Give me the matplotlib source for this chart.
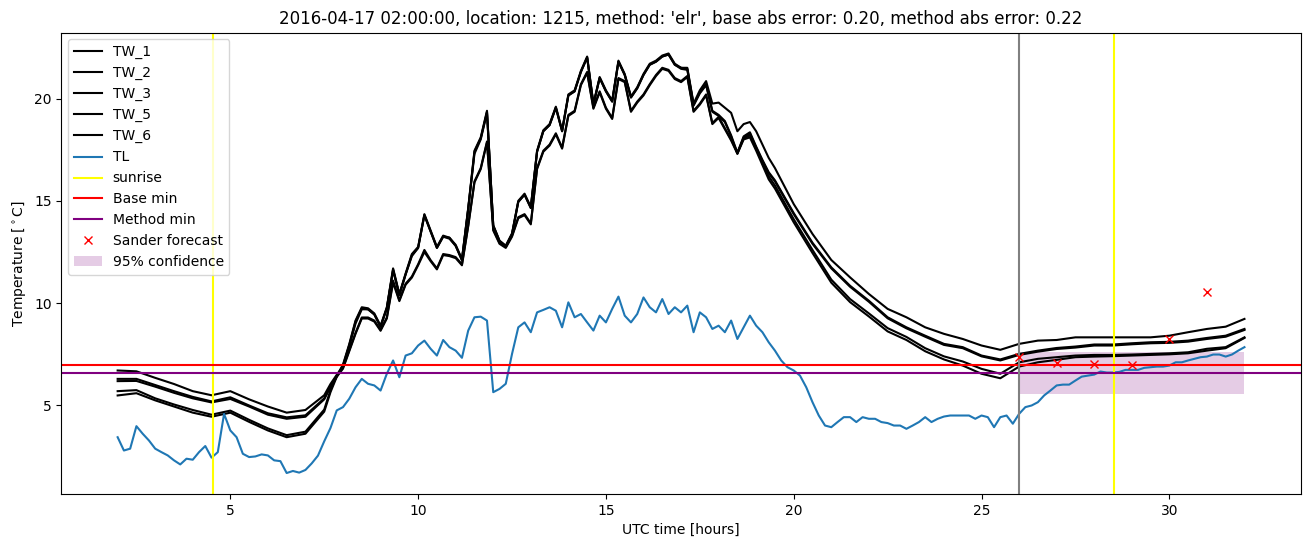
import numpy as np
import matplotlib
matplotlib.use("Agg")
import matplotlib.pyplot as plt

# ---------------- data ----------------
title = ("2016-04-17 02:00:00, location: 1215, method: 'elr', "
         "base abs error: 0.20, method abs error: 0.22")

# TL at 10-minute resolution, 2.0 .. 32.0 h
tl_values = [
    3.45, 2.80, 2.89, 3.99, 3.62, 3.29, 2.89, 2.72, 2.56, 2.32,
    2.12, 2.40, 2.35, 2.72, 3.02, 2.45, 2.72, 4.59, 3.78, 3.45,
    2.64, 2.48, 2.51, 2.61, 2.56, 2.32, 2.28, 1.70, 1.80, 1.72,
    1.85, 2.17, 2.55, 3.25, 3.90, 4.76, 4.92, 5.33, 5.89, 6.30,
    6.06, 5.98, 5.73, 6.55, 7.20, 6.38, 7.44, 7.55, 7.93, 8.17,
    7.77, 7.44, 8.20, 7.85, 7.68, 7.33, 8.66, 9.31, 9.34, 9.15,
    5.65, 5.81, 6.06, 7.52, 8.82, 9.06, 8.58, 9.55, 9.67, 9.80,
    9.63, 8.82, 10.04, 9.31, 9.47, 9.06, 8.66, 9.39, 9.06, 9.72,
    10.32, 9.39, 9.06, 9.47, 10.28, 9.80, 9.55, 10.20, 9.47, 9.80,
    9.55, 9.88, 8.58, 9.55, 9.31, 8.74, 8.90, 8.58, 9.15, 8.25,
    8.82, 9.39, 8.90, 8.58, 8.09, 7.68, 7.20, 6.87, 6.71, 6.46,
    5.89, 5.16, 4.51, 4.02, 3.94, 4.19, 4.43, 4.43, 4.19, 4.43,
    4.35, 4.35, 4.19, 4.14, 4.02, 4.02, 3.86, 4.02, 4.19, 4.43,
    4.19, 4.35, 4.46, 4.51, 4.51, 4.51, 4.51, 4.35, 4.51, 4.43,
    3.94, 4.43, 4.51, 4.11, 4.59, 4.92, 5.00, 5.16, 5.49, 5.73,
    5.98, 6.02, 6.02, 6.22, 6.41, 6.46, 6.51, 6.66, 6.61, 6.61,
    6.64, 6.74, 6.74, 6.74, 6.84, 6.87, 6.90, 6.90, 6.95, 7.11,
    7.11, 7.20, 7.28, 7.36, 7.39, 7.49, 7.49, 7.39, 7.49, 7.68,
    7.85,
]

# TW series: 30-min steps 2.0-7.5 h, 10-min steps 7.667-19.5 h, 30-min steps 20-32 h
tw_1 = [6.71, 6.67, 6.35, 6.05, 5.70, 5.50, 5.70, 5.30, 4.95, 4.65, 4.78, 5.50,
        6.05, 6.50, 6.90, 7.90, 9.00, 9.70, 9.70, 9.45, 8.85, 9.75, 11.60, 10.40,
        11.40, 12.30, 12.70, 14.30, 13.50, 12.70, 13.25, 13.20, 12.80, 12.10, 14.60, 17.30,
        18.00, 19.30, 13.80, 13.05, 12.80, 13.40, 14.95, 15.30, 14.65, 17.40, 18.40, 18.70,
        19.55, 18.40, 20.15, 20.35, 21.30, 22.00, 19.70, 21.00, 20.35, 19.85, 21.80, 21.15,
        20.05, 20.50, 21.15, 21.65, 21.80, 22.05, 22.15, 21.65, 21.50, 21.50, 19.75, 20.40,
        20.85, 19.75, 19.80, 19.55, 19.30, 18.40, 18.75, 18.85, 18.40, 17.75, 17.10, 16.60,
        14.84, 13.38, 12.11, 11.26, 10.45, 9.72, 9.31, 8.82, 8.50, 8.25, 7.93, 7.72,
        8.01, 8.17, 8.20, 8.33, 8.33, 8.33, 8.33, 8.33, 8.41, 8.58, 8.74, 8.85, 9.23]
tw_2 = [6.30, 6.30, 6.00, 5.70, 5.42, 5.20, 5.40, 5.00, 4.62, 4.42, 4.52, 5.35,
        5.95, 6.45, 6.85, 7.70, 8.55, 9.30, 9.30, 9.15, 8.70, 9.30, 11.10, 10.15,
        10.95, 11.30, 11.90, 12.60, 12.10, 11.70, 12.40, 12.35, 12.25, 11.90, 13.80, 15.95,
        16.60, 17.90, 13.60, 12.95, 12.75, 13.30, 14.20, 14.35, 13.90, 16.60, 17.45, 17.75,
        18.30, 17.60, 19.20, 19.40, 20.70, 21.30, 19.55, 20.35, 19.55, 19.05, 21.00, 20.85,
        19.40, 19.85, 20.20, 20.70, 21.15, 21.50, 21.40, 21.00, 20.85, 21.10, 19.40, 19.75,
        20.20, 18.80, 19.10, 18.55, 18.00, 17.35, 18.15, 18.35, 17.65, 17.00, 16.40, 16.00,
        14.40, 12.95, 11.75, 10.85, 10.12, 9.31, 8.82, 8.41, 8.01, 7.85, 7.44, 7.25,
        7.52, 7.68, 7.81, 7.88, 7.98, 7.98, 8.04, 8.09, 8.11, 8.17, 8.30, 8.41, 8.74]
tw_3 = [6.19, 6.20, 5.92, 5.62, 5.35, 5.15, 5.32, 4.95, 4.55, 4.35, 4.45, 5.30,
        5.90, 6.40, 6.80, 7.65, 8.50, 9.25, 9.25, 9.10, 8.65, 9.25, 11.00, 10.10,
        10.90, 11.25, 11.85, 12.50, 12.05, 11.65, 12.35, 12.30, 12.20, 11.85, 13.75, 15.90,
        16.55, 17.85, 13.55, 12.90, 12.70, 13.25, 14.15, 14.30, 13.85, 16.55, 17.40, 17.70,
        18.25, 17.55, 19.15, 19.35, 20.65, 21.25, 19.50, 20.30, 19.50, 19.00, 20.95, 20.80,
        19.35, 19.80, 20.15, 20.65, 21.10, 21.45, 21.35, 20.95, 20.80, 21.05, 19.35, 19.70,
        20.15, 18.75, 19.05, 18.50, 17.95, 17.30, 18.10, 18.30, 17.60, 16.95, 16.35, 15.95,
        14.35, 12.90, 11.70, 10.80, 10.07, 9.26, 8.77, 8.36, 7.96, 7.80, 7.40, 7.20,
        7.47, 7.63, 7.76, 7.83, 7.93, 7.93, 7.99, 8.04, 8.06, 8.12, 8.25, 8.36, 8.69]
tw_5 = [5.70, 5.75, 5.35, 5.05, 4.78, 4.55, 4.75, 4.30, 3.88, 3.55, 3.72, 4.80,
        5.75, 6.45, 7.00, 8.00, 9.15, 9.80, 9.75, 9.50, 8.90, 9.80, 11.70, 10.45,
        11.45, 12.40, 12.75, 14.35, 13.55, 12.75, 13.30, 13.20, 12.85, 12.15, 14.65, 17.45,
        18.10, 19.40, 13.80, 13.05, 12.80, 13.40, 15.00, 15.35, 14.70, 17.45, 18.45, 18.75,
        19.60, 18.45, 20.20, 20.40, 21.35, 22.05, 19.75, 21.05, 20.40, 19.90, 21.85, 21.20,
        20.10, 20.55, 21.20, 21.70, 21.85, 22.10, 22.20, 21.70, 21.50, 21.45, 19.70, 20.30,
        20.70, 19.40, 19.20, 18.90, 18.20, 17.35, 18.05, 18.20, 17.55, 16.85, 16.20, 15.75,
        14.10, 12.60, 11.15, 10.20, 9.50, 8.78, 8.35, 7.80, 7.40, 7.15, 6.79, 6.55,
        7.11, 7.28, 7.36, 7.44, 7.47, 7.47, 7.49, 7.52, 7.55, 7.60, 7.77, 7.85, 8.33]
tw_6 = [5.49, 5.60, 5.25, 4.95, 4.65, 4.45, 4.65, 4.20, 3.78, 3.45, 3.62, 4.70,
        5.65, 6.40, 6.95, 7.95, 9.10, 9.75, 9.70, 9.45, 8.85, 9.75, 11.65, 10.40,
        11.40, 12.35, 12.70, 14.30, 13.50, 12.70, 13.25, 13.15, 12.80, 12.10, 14.60, 17.40,
        18.05, 19.35, 13.75, 13.00, 12.75, 13.35, 14.95, 15.30, 14.65, 17.40, 18.40, 18.70,
        19.55, 18.40, 20.15, 20.35, 21.30, 22.00, 19.70, 21.00, 20.35, 19.85, 21.80, 21.15,
        20.05, 20.50, 21.15, 21.65, 21.80, 22.05, 22.15, 21.65, 21.45, 21.40, 19.65, 20.25,
        20.65, 19.35, 19.15, 18.85, 18.15, 17.30, 18.00, 18.10, 17.45, 16.75, 16.05, 15.60,
        13.95, 12.45, 11.00, 10.05, 9.35, 8.62, 8.20, 7.65, 7.25, 6.95, 6.55, 6.33,
        6.90, 7.11, 7.23, 7.36, 7.39, 7.41, 7.44, 7.47, 7.50, 7.55, 7.68, 7.80, 8.30]
tw_names = ["TW_1", "TW_2", "TW_3", "TW_5", "TW_6"]
tw_series = [tw_1, tw_2, tw_3, tw_5, tw_6]

sunrise_hours = [4.54, 28.53]
forecast_start = 26.0
base_min = 7.0
method_min = 6.6
sander_hours = [26, 27, 28, 29, 30, 31]
sander_values = [7.35, 7.10, 7.05, 7.00, 8.25, 10.55]
conf_hours = [26.0, 32.0]
conf_low = 5.55
conf_high = 7.6

# ---------------- grids ----------------
tl_hours = np.linspace(2.0, 32.0, len(tl_values))
tw_hours = np.concatenate([
    np.arange(2.0, 7.51, 0.5),
    2.0 + np.arange(34, 106) / 6.0,
    np.arange(20.0, 32.01, 0.5),
])

# ---------------- plot ----------------
fig = plt.figure(figsize=(13.1, 5.47), dpi=100)
ax = fig.add_axes([61.3 / 1310, 1 - 494 / 547, 1239.5 / 1310, (494 - 32.5) / 547])

for name, vals in zip(tw_names, tw_series):
    ax.plot(tw_hours, vals, color="black", label=name)
ax.plot(tl_hours, tl_values, color="#1f77b4", label="TL")
for i, s in enumerate(sunrise_hours):
    ax.axvline(s, color="yellow", label="sunrise" if i == 0 else None)
ax.axhline(base_min, color="red", label="Base min")
ax.axhline(method_min, color="purple", label="Method min")
ax.axvline(forecast_start, color="gray")
ax.plot(sander_hours, sander_values, "x", color="red", label="Sander forecast")
ax.fill_between(conf_hours, conf_low, conf_high, color="purple", alpha=0.2,
                linewidth=0, label="95% confidence")

ax.set_title(title)
ax.set_xlabel("UTC time [hours]")
ax.set_ylabel(r"Temperature [$^\circ$C]")
ax.legend(loc="upper left")

fig.savefig("out.png", dpi=100)
